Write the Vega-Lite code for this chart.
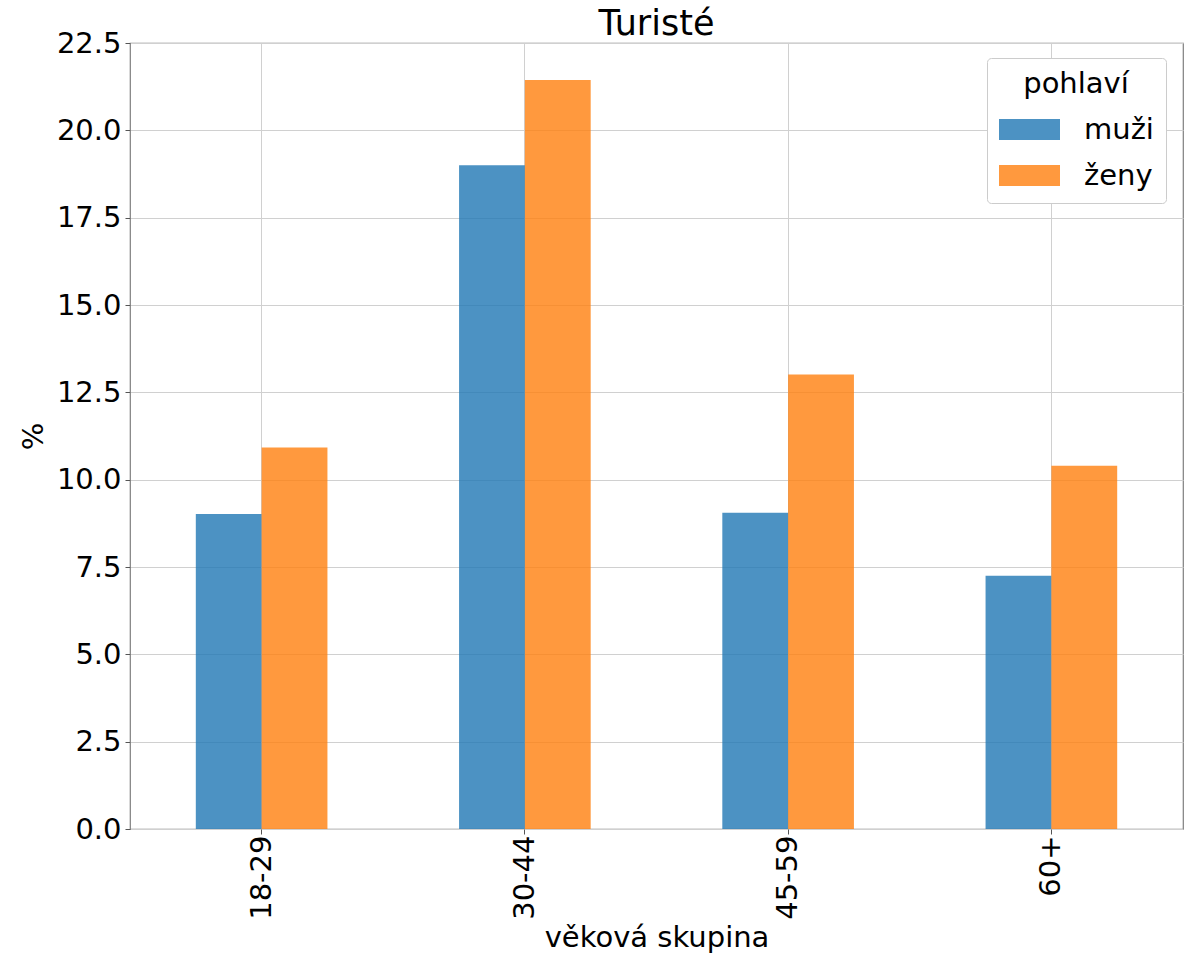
{
  "$schema": "https://vega.github.io/schema/vega-lite/v6.json",
  "width": 1053,
  "height": 786,
  "autosize": {"type": "none"},
  "padding": {"left": 130, "top": 43, "right": 15, "bottom": 131},
  "background": "white",
  "title": {"text": "Turisté", "fontSize": 35, "fontWeight": "normal", "font": "DejaVu Sans", "color": "#000000", "baseline": "alphabetic", "offset": -9, "dy": 32},
  "config": {
    "font": "DejaVu Sans",
    "view": {"stroke": "#7f7f7f", "strokeWidth": 1.2},
    "axis": {
      "labelFont": "DejaVu Sans",
      "titleFont": "DejaVu Sans",
      "labelFontSize": 29,
      "titleFontSize": 29,
      "titleFontWeight": "normal",
      "labelColor": "#000000",
      "titleColor": "#000000",
      "grid": true,
      "gridColor": "#d0d0d0",
      "gridWidth": 1,
      "tickColor": "#555555",
      "tickSize": 5,
      "domain": false
    }
  },
  "data": {
    "values": [
      {"skupina": "18-29", "pohlavi": "muži", "hodnota": 9.02},
      {"skupina": "18-29", "pohlavi": "ženy", "hodnota": 10.92},
      {"skupina": "30-44", "pohlavi": "muži", "hodnota": 19.0},
      {"skupina": "30-44", "pohlavi": "ženy", "hodnota": 21.44},
      {"skupina": "45-59", "pohlavi": "muži", "hodnota": 9.05},
      {"skupina": "45-59", "pohlavi": "ženy", "hodnota": 13.01},
      {"skupina": "60+", "pohlavi": "muži", "hodnota": 7.25},
      {"skupina": "60+", "pohlavi": "ženy", "hodnota": 10.4}
    ]
  },
  "mark": {"type": "bar", "opacity": 0.8},
  "encoding": {
    "x": {
      "field": "skupina",
      "type": "nominal",
      "sort": ["18-29", "30-44", "45-59", "60+"],
      "scale": {"paddingInner": 0.5, "paddingOuter": 0.25},
      "axis": {
        "title": "věková skupina",
        "labelAngle": -90,
        "labelAlign": "right",
        "labelBaseline": "middle",
        "labelPadding": 1,
        "titlePadding": 4,
        "bandPosition": 0.5
      }
    },
    "xOffset": {"field": "pohlavi", "type": "nominal", "sort": ["muži", "ženy"]},
    "y": {
      "field": "hodnota",
      "type": "quantitative",
      "scale": {"domain": [0, 22.5], "nice": false, "zero": true},
      "axis": {
        "title": "%",
        "values": [0, 2.5, 5, 7.5, 10, 12.5, 15, 17.5, 20, 22.5],
        "format": ".1f",
        "labelPadding": 4,
        "titlePadding": 8
      }
    },
    "color": {
      "field": "pohlavi",
      "type": "nominal",
      "sort": ["muži", "ženy"],
      "scale": {"domain": ["muži", "ženy"], "range": ["#1f77b4", "#ff7f0e"]},
      "legend": {
        "title": "pohlaví",
        "orient": "none",
        "legendX": 857,
        "legendY": 15,
        "padding": 12,
        "fillColor": "white",
        "strokeColor": "#cccccc",
        "cornerRadius": 4,
        "titleFont": "DejaVu Sans",
        "labelFont": "DejaVu Sans",
        "titleFontSize": 29,
        "titleFontWeight": "normal",
        "titleColor": "#000000",
        "titleAnchor": "middle",
        "titlePadding": 0,
        "labelFontSize": 29,
        "labelColor": "#000000",
        "labelOffset": 24,
        "symbolType": "M-1,-0.344H1V0.344H-1Z",
        "symbolSize": 3721,
        "symbolOpacity": 0.8,
        "symbolStrokeWidth": 0,
        "rowPadding": 0
      }
    }
  }
}
